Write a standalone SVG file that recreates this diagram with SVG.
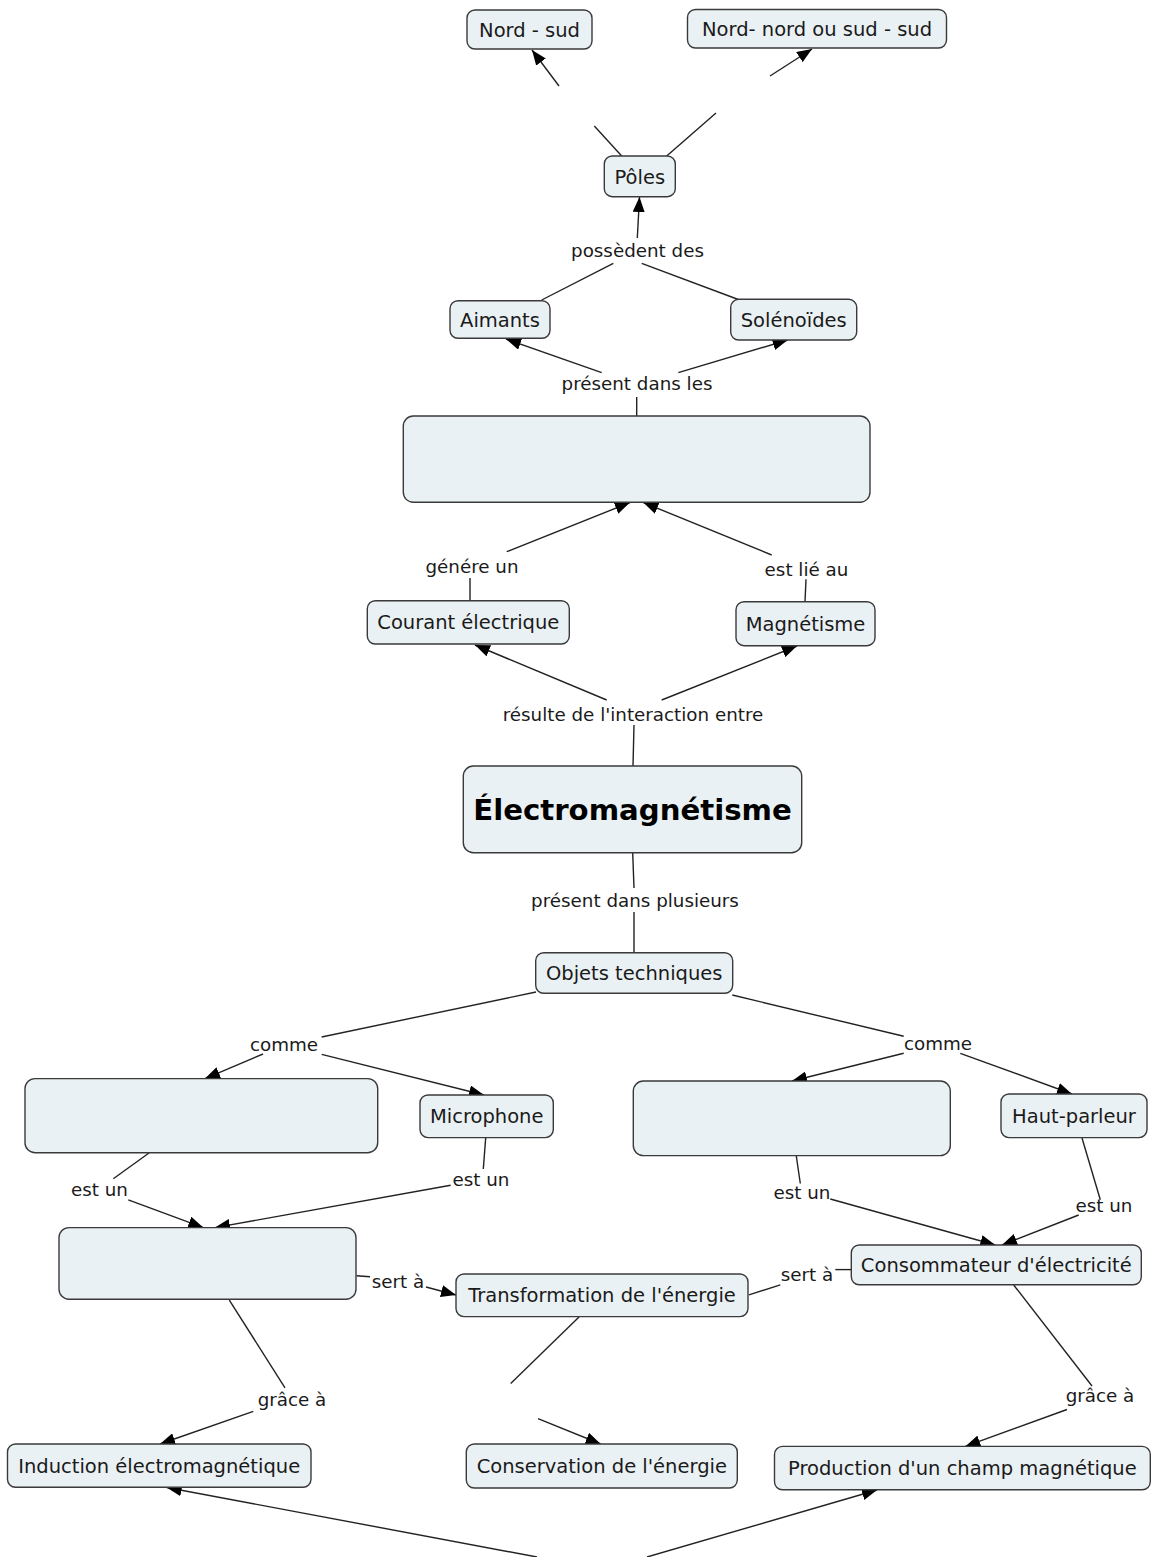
<svg xmlns="http://www.w3.org/2000/svg" width="1151" height="1557" viewBox="0 0 1151 1557">
<defs>
<style>
.n rect{fill:#eaf1f4;stroke:#3a3a3a;stroke-width:1.4}
.n text{font-family:"DejaVu Sans","Liberation Sans",sans-serif;font-size:19.5px;fill:#1a1a1a;text-anchor:middle}
.n text.big{font-size:29.2px;font-weight:bold;fill:#000}
.lbl{font-family:"DejaVu Sans","Liberation Sans",sans-serif;font-size:18.3px;fill:#1a1a1a;text-anchor:middle}
#connectors line{stroke:#222;stroke-width:1.4;fill:none}
#connectors line.a{marker-end:url(#arr)}
</style>
<marker id="arr" viewBox="0 0 15 12" refX="15" refY="6" markerWidth="15" markerHeight="12" markerUnits="userSpaceOnUse" orient="auto">
<path d="M0,0 L15,6 L0,12 z" fill="#000"/>
</marker>
</defs>
<rect width="1151" height="1557" fill="#fff"/>

<g id="connectors">
<line x1="621.7" y1="156" x2="594.3" y2="126"/>
<line class="a" x1="559" y1="86" x2="532" y2="50"/>
<line x1="666.7" y1="156" x2="716" y2="113"/>
<line class="a" x1="770" y1="76" x2="812" y2="49"/>
<line class="a" x1="637.3" y1="238" x2="639.5" y2="197"/>
<line x1="541.7" y1="300" x2="613.3" y2="263.3"/>
<line x1="738.3" y1="299.5" x2="641.7" y2="263.3"/>
<line class="a" x1="601.7" y1="372.7" x2="506" y2="339"/>
<line class="a" x1="678.3" y1="372.7" x2="787.7" y2="340"/>
<line x1="636.7" y1="397" x2="636.7" y2="416"/>
<line x1="470" y1="600.7" x2="470" y2="578"/>
<line class="a" x1="506.7" y1="551.7" x2="630" y2="502.5"/>
<line x1="805" y1="601.7" x2="806" y2="579.3"/>
<line class="a" x1="771.7" y1="555" x2="643.3" y2="502.5"/>
<line class="a" x1="606.7" y1="700" x2="475" y2="645"/>
<line class="a" x1="661.7" y1="700" x2="797" y2="646"/>
<line x1="634" y1="725" x2="633" y2="766"/>
<line x1="632.7" y1="853" x2="634" y2="888"/>
<line x1="634" y1="912" x2="634" y2="952.7"/>
<line x1="536" y1="992" x2="321.7" y2="1037"/>
<line class="a" x1="263" y1="1054" x2="205" y2="1078.6"/>
<line class="a" x1="321.7" y1="1054.4" x2="484" y2="1095"/>
<line x1="732.3" y1="995" x2="903.7" y2="1036.3"/>
<line class="a" x1="903.7" y1="1053.3" x2="792" y2="1081"/>
<line class="a" x1="960.3" y1="1053.3" x2="1072" y2="1094"/>
<line x1="149" y1="1153" x2="113.3" y2="1178.8"/>
<line class="a" x1="128.3" y1="1199.8" x2="203.3" y2="1227.6"/>
<line x1="485.7" y1="1137.6" x2="483.3" y2="1169"/>
<line class="a" x1="450.7" y1="1185.3" x2="215" y2="1227.6"/>
<line x1="796.3" y1="1156" x2="800.3" y2="1183.5"/>
<line class="a" x1="830.3" y1="1199" x2="995.3" y2="1245"/>
<line x1="1082" y1="1138" x2="1100.3" y2="1199.8"/>
<line class="a" x1="1078.7" y1="1215" x2="1002" y2="1245"/>
<line x1="356.5" y1="1275.7" x2="370" y2="1276.7"/>
<line class="a" x1="426" y1="1287" x2="456" y2="1295"/>
<line x1="749" y1="1294.9" x2="780.3" y2="1284.8"/>
<line x1="835.3" y1="1269.6" x2="851.3" y2="1269.6"/>
<line x1="229.3" y1="1300" x2="285" y2="1387.8"/>
<line class="a" x1="253.3" y1="1411.3" x2="160" y2="1444"/>
<line x1="1013.7" y1="1285" x2="1092" y2="1386"/>
<line class="a" x1="1067" y1="1409.5" x2="965.3" y2="1446.4"/>
<line x1="579" y1="1317" x2="510.7" y2="1383.5"/>
<line class="a" x1="538" y1="1418.6" x2="600.7" y2="1444"/>
<line class="a" x1="537" y1="1557" x2="166.7" y2="1487.5"/>
<line class="a" x1="647" y1="1557" x2="877" y2="1490"/>
</g>

<g id="labels">
<text class="lbl" x="637.5" y="256.5">possèdent des</text>
<text class="lbl" x="637" y="389.5">présent dans les</text>
<text class="lbl" x="472" y="573">génére un</text>
<text class="lbl" x="806.5" y="576">est lié au</text>
<text class="lbl" x="633" y="720.5">résulte de l'interaction entre</text>
<text class="lbl" x="635" y="906.5">présent dans plusieurs</text>
<text class="lbl" x="284" y="1050.5">comme</text>
<text class="lbl" x="938" y="1050">comme</text>
<text class="lbl" x="99.5" y="1196">est un</text>
<text class="lbl" x="481" y="1185.5">est un</text>
<text class="lbl" x="802" y="1199">est un</text>
<text class="lbl" x="1104" y="1211.5">est un</text>
<text class="lbl" x="398" y="1288">sert à</text>
<text class="lbl" x="807" y="1280.5">sert à</text>
<text class="lbl" x="292" y="1406">grâce à</text>
<text class="lbl" x="1100" y="1402">grâce à</text>
</g>

<g id="n-nordsud" class="n"><rect x="467" y="10" width="125" height="39" rx="8"/><text x="529.5" y="36.5">Nord - sud</text></g>
<g id="n-nordnord" class="n"><rect x="687.5" y="9.5" width="259" height="38.5" rx="8"/><text x="817" y="35.5">Nord- nord ou sud - sud</text></g>
<g id="n-poles" class="n"><rect x="604.3" y="156" width="71" height="40.7" rx="8"/><text x="639.8" y="183.5">Pôles</text></g>
<g id="n-aimants" class="n"><rect x="450" y="300.7" width="100" height="37.6" rx="8"/><text x="500" y="326.5">Aimants</text></g>
<g id="n-solenoides" class="n"><rect x="730.7" y="299.3" width="126" height="40.7" rx="8"/><text x="793.7" y="326.7">Solénoïdes</text></g>
<g id="n-blank-top" class="n"><rect x="403.3" y="416" width="466.7" height="86.3" rx="10"/></g>
<g id="n-courant" class="n"><rect x="367.3" y="600.7" width="202" height="43.3" rx="8"/><text x="468.3" y="629">Courant électrique</text></g>
<g id="n-magnetisme" class="n"><rect x="736" y="601.7" width="139" height="44" rx="8"/><text x="805.5" y="630.7">Magnétisme</text></g>
<g id="n-electromag" class="n"><rect x="463.3" y="766" width="338.4" height="86.7" rx="10"/><text class="big" x="632.5" y="820">Électromagnétisme</text></g>
<g id="n-objets" class="n"><rect x="535.7" y="952.7" width="197" height="40.6" rx="8"/><text x="634.2" y="980">Objets techniques</text></g>
<g id="n-blank-left" class="n"><rect x="25" y="1078.6" width="352.7" height="74.1" rx="10"/></g>
<g id="n-microphone" class="n"><rect x="420" y="1095" width="133.3" height="42.6" rx="8"/><text x="486.7" y="1123">Microphone</text></g>
<g id="n-blank-right" class="n"><rect x="633.3" y="1081" width="317" height="74.6" rx="10"/></g>
<g id="n-hautparleur" class="n"><rect x="1001" y="1094" width="146" height="43.6" rx="8"/><text x="1074" y="1123">Haut-parleur</text></g>
<g id="n-blank-mid" class="n"><rect x="59" y="1227.6" width="297" height="71.6" rx="10"/></g>
<g id="n-transformation" class="n"><rect x="456" y="1274" width="292" height="42.6" rx="8"/><text x="602" y="1302">Transformation de l'énergie</text></g>
<g id="n-consommateur" class="n"><rect x="851.3" y="1245" width="290" height="39.8" rx="8"/><text x="996.3" y="1272">Consommateur d'électricité</text></g>
<g id="n-induction" class="n"><rect x="7.5" y="1444" width="303.5" height="43.3" rx="8"/><text x="159.2" y="1472.5">Induction électromagnétique</text></g>
<g id="n-conservation" class="n"><rect x="466.3" y="1444" width="271" height="44" rx="8"/><text x="601.8" y="1473">Conservation de l'énergie</text></g>
<g id="n-production" class="n"><rect x="774.5" y="1446.4" width="375.8" height="43.4" rx="8"/><text x="962.4" y="1475">Production d'un champ magnétique</text></g>
</svg>
